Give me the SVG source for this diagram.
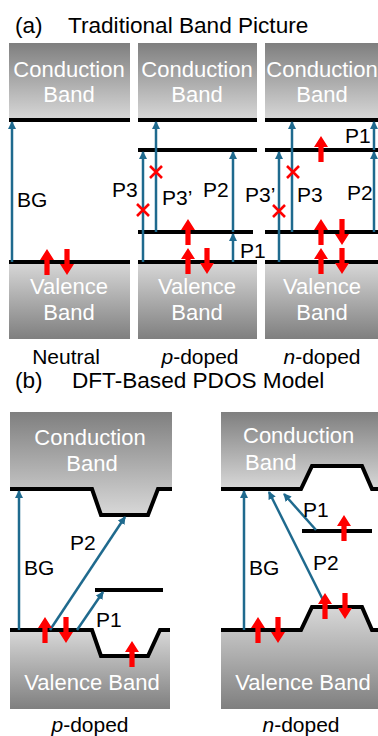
<svg xmlns="http://www.w3.org/2000/svg" width="378" height="736" viewBox="0 0 378 736">
<defs>
<linearGradient id="gcb" x1="0" y1="0" x2="0" y2="1"><stop offset="0" stop-color="#7f7f7f"/><stop offset="1" stop-color="#d8d8d8"/></linearGradient>
<linearGradient id="gvb" x1="0" y1="0" x2="0" y2="1"><stop offset="0" stop-color="#d8d8d8"/><stop offset="1" stop-color="#7f7f7f"/></linearGradient>
<marker id="ah" markerWidth="8" markerHeight="8" refX="7" refY="4" orient="auto" markerUnits="userSpaceOnUse"><path d="M0,0 L8,4 L0,8 Z" fill="#1f6a8e"/></marker>
<path id="ru" d="M0,-13 L7,-2 L2.6,-2 L2.6,13 L-2.6,13 L-2.6,-2 L-7,-2 Z" fill="#ff0000"/>
<path id="rd" d="M0,13 L7,2 L2.6,2 L2.6,-13 L-2.6,-13 L-2.6,2 L-7,2 Z" fill="#ff0000"/>
<path id="rx" d="M-6,-6 L6,6 M6,-6 L-6,6" stroke="#ff0000" stroke-width="2.6" fill="none"/>
</defs>
<style>
.t{font-family:"Liberation Sans",Arial,sans-serif;font-size:21px;fill:#000}
.h{font-size:22.6px}
.c{text-anchor:middle}
.w{font-family:"Liberation Sans",Arial,sans-serif;font-size:22px;fill:#fff}
.bl{stroke:#000;stroke-width:4;fill:none}
.ar{stroke:#1f6a8e;stroke-width:2.5;fill:none;marker-end:url(#ah)}
</style>
<rect width="378" height="736" fill="#fff"/>

<g id="titleA">
<text class="t h" x="15" y="33">(a)</text>
<text class="t h" x="68" y="33">Traditional Band Picture</text>
</g>

<!-- (a) Neutral -->
<g id="a-neutral">
<rect x="9" y="43" width="121" height="77" fill="url(#gcb)"/>
<text class="w c" x="69" y="77">Conduction</text>
<text class="w c" x="69" y="102">Band</text>
<rect x="9" y="262" width="121" height="77" fill="url(#gvb)"/>
<text class="w c" x="69" y="294">Valence</text>
<text class="w c" x="69" y="320">Band</text>
<line class="bl" x1="9" y1="120" x2="130" y2="120"/>
<line class="bl" x1="9" y1="262" x2="130" y2="262"/>
<text class="t c" x="66" y="364">Neutral</text>
</g>

<!-- (a) p-doped -->
<g id="a-pdoped">
<rect x="138" y="43" width="119" height="77" fill="url(#gcb)"/>
<text class="w c" x="197" y="77">Conduction</text>
<text class="w c" x="197" y="102">Band</text>
<rect x="138" y="262" width="119" height="77" fill="url(#gvb)"/>
<text class="w c" x="197" y="294">Valence</text>
<text class="w c" x="197" y="320">Band</text>
<line class="bl" x1="138" y1="120" x2="257" y2="120"/>
<line class="bl" x1="138" y1="150" x2="257" y2="150"/>
<line class="bl" x1="138" y1="232" x2="253" y2="232"/>
<line class="bl" x1="138" y1="262" x2="257" y2="262"/>
<text class="t c" x="200" y="364"><tspan font-style="italic">p</tspan>-doped</text>
</g>

<!-- (a) n-doped -->
<g id="a-ndoped">
<rect x="265" y="43" width="113" height="77" fill="url(#gcb)"/>
<text class="w c" x="322" y="77">Conduction</text>
<text class="w c" x="322" y="102">Band</text>
<rect x="265" y="262" width="113" height="77" fill="url(#gvb)"/>
<text class="w c" x="322" y="294">Valence</text>
<text class="w c" x="322" y="320">Band</text>
<line class="bl" x1="265" y1="120" x2="378" y2="120"/>
<line class="bl" x1="265" y1="150" x2="378" y2="150"/>
<line class="bl" x1="265" y1="232" x2="378" y2="232"/>
<line class="bl" x1="265" y1="262" x2="378" y2="262"/>
<text class="t c" x="322" y="364"><tspan font-style="italic">n</tspan>-doped</text>
</g>

<g id="connectorsA">
<line class="ar" x1="12" y1="262" x2="12" y2="122"/>
<line class="ar" x1="143" y1="262" x2="143" y2="152"/>
<line class="ar" x1="156" y1="232" x2="156" y2="122"/>
<line class="ar" x1="233" y1="232" x2="233" y2="152"/>
<line class="ar" x1="233" y1="262" x2="233" y2="234"/>
<line class="ar" x1="279" y1="262" x2="279" y2="152"/>
<line class="ar" x1="292" y1="232" x2="292" y2="122"/>
<line class="ar" x1="374" y1="232" x2="374" y2="152"/>
<line class="ar" x1="374" y1="150" x2="374" y2="122"/>
</g>

<g id="labelsA">
<text class="t" x="17" y="207">BG</text>
<text class="t" x="112" y="197">P3</text>
<text class="t" x="162" y="205">P3’</text>
<text class="t" x="203" y="197">P2</text>
<text class="t" x="240" y="258">P1</text>
<text class="t" x="245" y="202">P3’</text>
<text class="t" x="297" y="202">P3</text>
<text class="t" x="347" y="200">P2</text>
<text class="t" x="345" y="143">P1</text>
</g>

<g id="marksA">
<use href="#rx" x="143" y="210"/>
<use href="#rx" x="156" y="172"/>
<use href="#rx" x="279" y="211"/>
<use href="#rx" x="293" y="172"/>
<use href="#ru" x="47" y="262"/>
<use href="#rd" x="67" y="262"/>
<use href="#ru" x="188" y="232"/>
<use href="#ru" x="188" y="261"/>
<use href="#rd" x="207" y="261"/>
<use href="#ru" x="321" y="149"/>
<use href="#ru" x="321" y="232"/>
<use href="#rd" x="342" y="232"/>
<use href="#ru" x="321" y="261"/>
<use href="#rd" x="342" y="261"/>
</g>

<g id="titleB">
<text class="t h" x="15" y="388">(b)</text>
<text class="t h" x="72" y="388">DFT-Based PDOS Model</text>
</g>

<!-- (b) p-doped -->
<g id="b-pdoped">
<path d="M10,412 H172 V489 H158 L148,515 H101 L92,489 H10 Z" fill="url(#gcb)"/>
<text class="w c" x="90" y="445">Conduction</text>
<text class="w c" x="92" y="471">Band</text>
<path d="M10,630 H92 L101,656 H148 L160,630 H170 V709 H10 Z" fill="url(#gvb)"/>
<text class="w c" x="92" y="690">Valence Band</text>
<path class="bl" d="M10,489 H92 L101,515 H148 L158,489 H172"/>
<path class="bl" d="M10,630 H92 L101,656 H148 L160,630 H170"/>
<line class="bl" x1="95" y1="590" x2="163" y2="590"/>
<text class="t c" x="90" y="732"><tspan font-style="italic">p</tspan>-doped</text>
</g>

<!-- (b) n-doped -->
<g id="b-ndoped">
<path d="M221,412 H378 V489 H372 L362,466 H312 L301,489 H221 Z" fill="url(#gcb)"/>
<text class="w" x="243" y="443">Conduction</text>
<text class="w" x="245" y="470">Band</text>
<path d="M221,630 H301 L312,607 H362 L372,630 H378 V709 H221 Z" fill="url(#gvb)"/>
<text class="w c" x="303" y="690">Valence Band</text>
<path class="bl" d="M221,489 H301 L312,466 H362 L372,489 H378"/>
<path class="bl" d="M221,630 H301 L312,607 H362 L372,630 H378"/>
<line class="bl" x1="302" y1="531" x2="372" y2="531"/>
<text class="t c" x="301" y="732"><tspan font-style="italic">n</tspan>-doped</text>
</g>

<g id="connectorsB">
<line class="ar" x1="19" y1="630" x2="19" y2="491"/>
<line class="ar" x1="50" y1="630" x2="125" y2="517"/>
<line class="ar" x1="77" y1="630" x2="103" y2="592"/>
<line class="ar" x1="244" y1="630" x2="244" y2="491"/>
<line class="ar" x1="323" y1="600" x2="269" y2="492"/>
<line class="ar" x1="316" y1="530" x2="284" y2="494"/>
</g>

<g id="labelsB">
<text class="t" x="24" y="575">BG</text>
<text class="t" x="70" y="550">P2</text>
<text class="t" x="96" y="627">P1</text>
<text class="t" x="249" y="575">BG</text>
<text class="t" x="313" y="570">P2</text>
<text class="t" x="303" y="517">P1</text>
</g>

<g id="marksB">
<use href="#ru" x="45" y="630"/>
<use href="#rd" x="66" y="630"/>
<use href="#ru" x="132" y="654"/>
<use href="#ru" x="344" y="528"/>
<use href="#ru" x="325" y="606"/>
<use href="#rd" x="345" y="606"/>
<use href="#ru" x="258" y="630"/>
<use href="#rd" x="278" y="630"/>
</g>
</svg>
